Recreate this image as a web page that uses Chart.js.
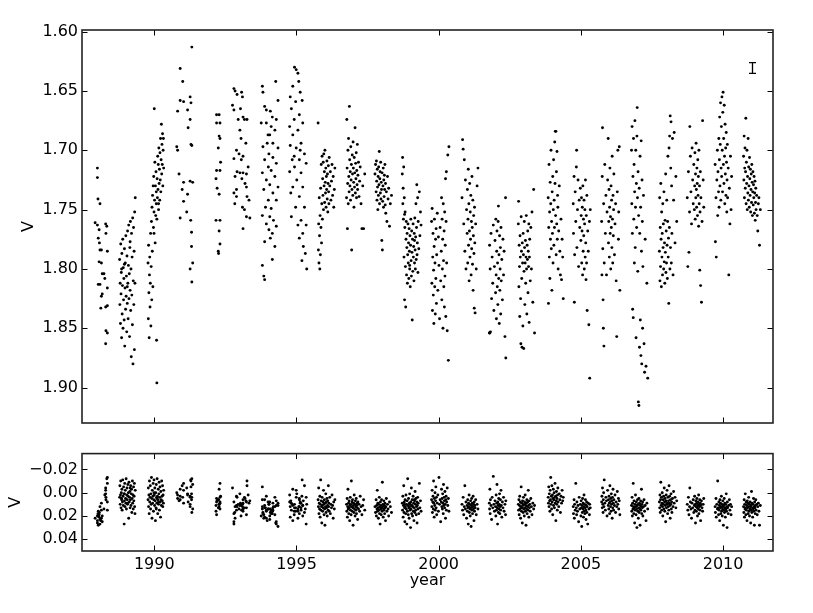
<!DOCTYPE html>
<html>
<head>
<meta charset="utf-8">
<script src="https://cdn.jsdelivr.net/npm/chart.js@4.4.1/dist/chart.umd.min.js"></script>
<style>
  body { margin: 0; background: #fff; }
  #wrap { position: relative; width: 813px; height: 613px; }
  canvas { position: absolute; left: 0; }
  #topChart { top: 0; }
  #checkChart { top: 440px; }
</style>
</head>
<body>
<div id="wrap">
  <canvas id="topChart" width="813" height="440"></canvas>
  <canvas id="checkChart" width="813" height="173"></canvas>
</div>
<script>
// axis limits (data units)
const xMin = 1987.458, xMax = 2011.755;
const vMin = 1.5986, vMax = 1.9298;
const cMin = -0.0336, cMax = 0.0501;
const xTickStep = 5, vTickStep = 0.05, cTickStep = 0.02;

// typical error bar shown in the upper right corner
const errYear = 2011.0, errV = 1.6306, errHalf = 0.0045;

// one observing season each: time (year), V of the star, check-star difference
const t1988 = [1988.00,1988.00,1988.02,1988.09,1987.92,1988.00,1988.06,1988.29,1988.33,1988.03,
  1988.07,1988.09,1988.14,1988.30,1988.35,1988.06,1988.14,1988.17,1988.23,1988.26,
  1988.03,1988.09,1988.35,1988.17,1988.14,1988.29,1988.35,1988.12,1988.30,1988.35,1988.29];
const v1988 = [1.715,1.723,1.741,1.745,1.761,1.763,1.767,1.762,1.764,1.774,
  1.778,1.784,1.784,1.770,1.785,1.794,1.795,1.804,1.804,1.808,
  1.813,1.813,1.816,1.821,1.823,1.832,1.831,1.833,1.852,1.854,1.863];
const c1988 = [0.020,0.024,0.018,0.012,0.022,0.026,0.021,-0.004,-0.012,0.028,
  0.017,0.023,0.009,0.004,-0.008,0.019,0.015,0.025,0.014,0.002,
  0.016,0.027,0.008,0.020,0.022,-0.002,-0.013,0.024,0.006,0.015,0.001];

const t1989 = [1988.78,1988.79,1988.80,1988.81,1988.82,1988.83,1988.84,1988.85,1988.86,1988.87,
  1988.88,1988.89,1988.90,1988.91,1988.92,1988.93,1988.94,1988.95,1988.96,1988.97,
  1988.98,1988.99,1989.00,1989.01,1989.02,1989.03,1989.04,1989.05,1989.06,1989.07,
  1989.08,1989.09,1989.10,1989.11,1989.12,1989.13,1989.14,1989.15,1989.16,1989.17,
  1989.18,1989.19,1989.20,1989.21,1989.22,1989.23,1989.24,1989.25,1989.26,1989.27,
  1989.28,1989.29,1989.30,1989.31,1989.32,1989.33,1988.85,1988.95,1989.05,1989.15];
const v1989 = [1.792,1.830,1.812,1.846,1.779,1.821,1.803,1.858,1.787,1.838,
  1.814,1.775,1.850,1.799,1.826,1.808,1.843,1.783,1.865,1.816,
  1.795,1.834,1.772,1.823,1.806,1.853,1.789,1.829,1.768,1.812,
  1.842,1.797,1.763,1.825,1.804,1.857,1.782,1.818,1.760,1.835,
  1.800,1.874,1.770,1.822,1.790,1.847,1.757,1.880,1.810,1.765,
  1.830,1.785,1.868,1.752,1.812,1.740,1.800,1.796,1.815,1.777];
const c1989 = [0.004,-0.006,0.010,0.002,-0.010,0.013,0.000,0.006,-0.003,0.015,
  0.008,-0.011,0.003,0.011,-0.005,0.001,0.027,0.007,-0.008,0.012,
  -0.002,0.005,0.009,-0.012,0.014,0.002,-0.004,0.006,0.010,-0.007,
  0.003,0.000,0.022,-0.009,0.008,0.004,-0.001,0.013,0.006,-0.006,
  0.011,0.001,-0.003,0.017,0.005,-0.010,0.009,0.002,0.014,-0.005,
  0.007,0.003,-0.008,0.012,0.018,-0.002,0.005,0.001,0.009,-0.004];

const t1990 = [1989.78,1989.79,1989.80,1989.81,1989.82,1989.83,1989.84,1989.85,1989.86,1989.87,
  1989.88,1989.89,1989.90,1989.91,1989.92,1989.93,1989.94,1989.95,1989.96,1989.97,
  1989.98,1989.99,1990.00,1990.01,1990.02,1990.03,1990.04,1990.05,1990.06,1990.07,
  1990.08,1990.09,1990.10,1990.11,1990.12,1990.13,1990.14,1990.15,1990.16,1990.17,
  1990.18,1990.19,1990.20,1990.21,1990.22,1990.23,1990.24,1990.25,1990.26,1990.27,
  1990.28,1990.29,1990.30,1990.31,1990.32,1990.33,1990.09,1990.07,1989.99,1990.15];
const v1990 = [1.795,1.842,1.780,1.820,1.858,1.805,1.790,1.832,1.812,1.770,
  1.848,1.798,1.760,1.826,1.748,1.785,1.738,1.815,1.730,1.765,
  1.722,1.752,1.665,1.742,1.710,1.778,1.730,1.755,1.718,1.745,
  1.860,1.896,1.724,1.740,1.705,1.733,1.712,1.750,1.698,1.728,
  1.716,1.742,1.702,1.725,1.690,1.735,1.708,1.678,1.720,1.695,
  1.712,1.686,1.730,1.700,1.690,1.715,1.758,1.735,1.770,1.745];
const c1990 = [0.006,-0.004,0.012,0.002,0.018,-0.010,0.008,0.004,-0.006,0.014,
  0.001,0.010,-0.013,0.005,0.022,-0.002,0.009,0.003,-0.008,0.016,
  0.006,-0.011,0.002,0.011,-0.004,0.007,0.024,0.000,0.013,-0.007,
  0.004,0.009,-0.012,0.003,0.018,0.006,-0.003,0.010,0.001,-0.009,
  0.015,0.004,-0.005,0.008,0.021,-0.001,0.006,0.011,-0.010,0.003,
  0.007,-0.006,0.012,0.002,0.009,-0.002,0.005,0.014,0.000,0.008];

const t1991 = [1990.91,1991.00,1991.32,1990.82,1990.91,1991.03,1991.17,1991.26,1991.29,1991.26,
  1991.19,1991.29,1991.32,1990.79,1990.82,1990.87,1991.03,1991.26,1991.35,1990.98,
  1991.17,1991.03,1991.14,1990.91,1991.28,1991.31,1991.31,1991.26,1991.35,1991.32];
const v1991 = [1.631,1.642,1.613,1.667,1.658,1.659,1.666,1.655,1.660,1.674,
  1.681,1.695,1.696,1.697,1.700,1.720,1.727,1.726,1.727,1.733,
  1.737,1.743,1.752,1.757,1.759,1.769,1.781,1.800,1.795,1.811];
const c1991 = [-0.003,0.004,-0.012,0.002,0.006,-0.008,0.001,0.010,-0.005,0.003,
  0.008,-0.010,0.017,0.000,0.005,0.007,-0.002,0.004,0.014,-0.006,
  0.002,0.009,-0.004,0.003,-0.011,0.006,0.001,0.012,-0.007,0.004];

const t1992 = [1992.19,1992.28,1992.19,1992.31,1992.28,1992.31,1992.25,1992.33,1992.19,1992.31,
  1992.17,1992.21,1992.28,1992.17,1992.31,1992.28,1992.31,1992.25,1992.26];
const v1992 = [1.670,1.670,1.677,1.677,1.688,1.690,1.698,1.710,1.717,1.717,
  1.724,1.732,1.737,1.759,1.759,1.768,1.779,1.785,1.787];
const c1992 = [0.008,0.012,0.005,-0.008,0.010,0.014,0.006,0.003,0.019,0.009,
  0.011,0.007,-0.003,0.016,0.004,0.010,0.008,0.013,0.006];

const t1993 = [1992.80,1992.84,1992.91,1993.07,1993.10,1992.75,1992.80,1993.03,1993.12,1993.17,
  1993.26,1993.01,1993.05,1993.22,1992.89,1992.98,1992.80,1993.12,1992.91,1993.01,
  1993.12,1993.24,1992.84,1993.08,1993.19,1993.24,1992.80,1992.89,1993.26,1993.33,
  1992.83,1993.10,1993.17,1993.24,1993.36,1993.12,1992.95,1993.30,1992.89,1993.06];
const v1993 = [1.648,1.650,1.653,1.651,1.655,1.662,1.666,1.665,1.672,1.674,
  1.674,1.683,1.690,1.694,1.700,1.703,1.707,1.705,1.718,1.719,
  1.719,1.720,1.722,1.724,1.728,1.731,1.736,1.739,1.739,1.742,
  1.745,1.748,1.750,1.756,1.757,1.766,1.674,1.714,1.733,1.708];
const c1993 = [0.008,0.012,0.004,0.015,0.010,-0.004,0.018,0.009,0.006,0.013,
  -0.010,0.011,0.020,0.007,0.003,0.014,0.025,0.009,0.012,0.001,
  0.016,0.008,0.022,0.010,0.005,0.013,0.027,0.011,-0.006,0.009,
  0.017,0.012,0.004,0.019,0.007,0.014,0.010,0.002,0.015,0.011];

const t1994 = [1993.80,1993.82,1993.88,1993.94,1994.08,1994.35,1994.27,1994.15,1994.29,1993.76,
  1993.94,1994.11,1994.24,1994.06,1993.97,1994.17,1993.82,1994.35,1994.03,1994.17,
  1993.88,1994.29,1994.01,1994.11,1993.80,1994.24,1993.94,1994.06,1994.35,1993.85,
  1994.17,1994.01,1994.29,1993.91,1994.11,1993.80,1994.06,1994.19,1993.94,1994.29,
  1994.03,1994.15,1993.88,1994.24,1994.15,1993.80,1993.85,1993.88,1994.08,1994.00];
const v1994 = [1.646,1.651,1.663,1.666,1.667,1.658,1.642,1.672,1.674,1.677,
  1.677,1.680,1.683,1.687,1.694,1.694,1.697,1.698,1.703,1.706,
  1.708,1.711,1.714,1.717,1.719,1.722,1.725,1.729,1.731,1.733,
  1.736,1.742,1.742,1.748,1.749,1.755,1.756,1.759,1.762,1.764,
  1.767,1.770,1.777,1.781,1.792,1.797,1.806,1.809,1.774,1.687];
const c1994 = [0.012,0.018,0.006,0.022,0.014,0.009,0.026,0.016,0.011,0.020,
  0.003,0.015,0.019,0.008,0.024,0.013,0.017,0.029,0.010,0.015,
  0.021,0.007,0.014,0.018,-0.005,0.012,0.016,0.023,0.011,0.019,
  0.009,0.014,0.027,0.013,0.017,0.006,0.020,0.012,0.015,0.025,
  0.010,0.016,0.013,0.004,0.018,0.014,0.022,0.011,0.017,0.008];

const t1995 = [1994.93,1994.99,1995.05,1994.87,1995.08,1994.78,1995.13,1994.97,1995.20,1994.82,
  1995.10,1994.92,1995.22,1994.76,1995.05,1994.87,1995.16,1994.78,1994.99,1995.28,
  1994.85,1995.10,1994.93,1995.34,1994.76,1995.16,1995.01,1994.87,1995.22,1994.80,
  1995.10,1994.97,1995.28,1994.82,1995.16,1995.05,1995.34,1995.22,1995.10,1995.24,
  1995.31,1995.36,1995.19,1994.92,1995.13];
const v1995 = [1.630,1.632,1.635,1.646,1.642,1.655,1.651,1.659,1.658,1.665,
  1.670,1.674,1.677,1.680,1.683,1.687,1.694,1.696,1.698,1.703,
  1.708,1.708,1.714,1.711,1.718,1.719,1.725,1.731,1.731,1.736,
  1.739,1.748,1.748,1.756,1.759,1.763,1.763,1.770,1.774,1.781,
  1.787,1.800,1.793,1.705,1.700];
const c1995 = [0.010,0.004,0.016,-0.003,0.012,0.021,0.008,0.013,-0.011,0.015,
  0.006,0.019,0.011,0.002,0.014,0.024,0.009,0.012,-0.002,0.017,
  0.010,0.005,0.013,0.027,0.008,0.015,0.001,0.011,0.020,0.007,
  0.012,0.016,-0.006,0.009,0.013,0.022,0.004,0.011,0.018,0.007,
  0.014,0.010,0.003,0.016,0.009];

const t1996 = [1995.76,1995.77,1995.78,1995.79,1995.80,1995.81,1995.82,1995.83,1995.84,1995.85,
  1995.86,1995.87,1995.88,1995.89,1995.90,1995.91,1995.92,1995.93,1995.94,1995.95,
  1995.96,1995.97,1995.98,1995.99,1996.00,1996.01,1996.02,1996.03,1996.04,1996.05,
  1996.06,1996.07,1996.08,1996.09,1996.10,1996.11,1996.12,1996.13,1996.14,1996.15,
  1996.17,1996.19,1996.21,1996.23,1996.25,1996.27,1996.29,1996.31,1996.33,1996.35];
const v1996 = [1.677,1.784,1.762,1.795,1.740,1.772,1.800,1.755,1.788,1.732,
  1.765,1.712,1.778,1.745,1.705,1.758,1.724,1.738,1.710,1.750,
  1.703,1.730,1.718,1.744,1.700,1.727,1.736,1.715,1.748,1.722,
  1.733,1.709,1.741,1.720,1.752,1.728,1.713,1.735,1.745,1.706,
  1.730,1.718,1.742,1.726,1.712,1.738,1.722,1.748,1.733,1.715];
const c1996 = [0.006,0.012,-0.004,0.018,0.009,0.014,0.003,0.021,0.010,-0.011,
  0.015,0.007,0.012,0.026,0.004,0.011,0.016,0.008,0.013,-0.002,
  0.010,0.019,0.006,0.014,0.028,0.009,0.012,0.001,0.017,0.008,
  0.013,0.005,0.020,0.011,0.007,0.015,-0.006,0.012,0.009,0.016,
  0.004,0.018,0.010,0.013,0.002,0.011,0.022,0.008,0.014,0.006];

const t1997 = [1996.76,1996.77,1996.78,1996.79,1996.80,1996.81,1996.82,1996.83,1996.84,1996.85,
  1996.86,1996.87,1996.88,1996.89,1996.90,1996.91,1996.92,1996.93,1996.94,1996.95,
  1996.96,1996.97,1996.98,1996.99,1997.00,1997.01,1997.02,1997.03,1997.04,1997.05,
  1997.06,1997.07,1997.08,1997.09,1997.10,1997.11,1997.12,1997.13,1997.14,1997.15,
  1997.16,1997.18,1997.20,1997.22,1997.24,1997.27,1997.30,1997.33,1997.36,1997.40];
const v1997 = [1.740,1.674,1.715,1.766,1.728,1.700,1.745,1.690,1.722,1.735,
  1.663,1.708,1.730,1.718,1.742,1.697,1.725,1.712,1.784,1.733,
  1.704,1.720,1.738,1.693,1.715,1.727,1.748,1.706,1.731,1.719,
  1.681,1.736,1.711,1.724,1.702,1.740,1.717,1.729,1.695,1.733,
  1.721,1.710,1.739,1.726,1.714,1.745,1.766,1.730,1.766,1.720];
const c1997 = [0.010,0.016,0.005,0.021,0.012,-0.003,0.014,0.009,0.018,0.007,
  0.013,0.024,0.011,0.004,0.015,0.010,0.019,-0.010,0.012,0.008,
  0.016,0.006,0.013,0.028,0.011,0.009,0.017,0.002,0.014,0.010,
  0.020,0.007,0.012,0.015,0.005,0.018,0.011,0.009,0.013,0.023,
  0.008,0.014,0.010,0.016,0.003,0.012,0.019,0.011,0.006,0.015];

const t1998 = [1997.76,1997.78,1997.80,1997.81,1997.82,1997.83,1997.84,1997.85,1997.86,1997.87,
  1997.88,1997.89,1997.90,1997.91,1997.92,1997.93,1997.94,1997.95,1997.96,1997.97,
  1997.98,1997.99,1998.00,1998.01,1998.02,1998.03,1998.04,1998.05,1998.06,1998.07,
  1998.08,1998.09,1998.10,1998.11,1998.12,1998.13,1998.14,1998.16,1998.18,1998.20,
  1998.22,1998.24,1998.27,1998.30,1998.34];
const v1998 = [1.720,1.712,1.735,1.709,1.726,1.742,1.716,1.731,1.750,1.722,
  1.738,1.714,1.729,1.701,1.745,1.724,1.718,1.736,1.710,1.741,
  1.727,1.733,1.776,1.719,1.784,1.743,1.730,1.715,1.748,1.725,
  1.739,1.721,1.733,1.712,1.746,1.728,1.753,1.735,1.760,1.722,
  1.741,1.732,1.764,1.745,1.738];
const c1998 = [0.012,0.017,0.006,0.020,0.011,0.014,-0.002,0.016,0.009,0.013,
  0.022,0.010,0.015,0.004,0.018,0.012,0.027,0.008,0.014,0.011,
  0.019,0.006,0.013,0.016,-0.009,0.012,0.010,0.021,0.014,0.007,
  0.015,0.011,0.018,0.009,0.013,0.024,0.012,0.005,0.016,0.010,
  0.014,0.020,0.008,0.012,0.017];

const t1999 = [1998.72,1998.73,1998.74,1998.75,1998.76,1998.77,1998.78,1998.79,1998.80,1998.81,
  1998.82,1998.83,1998.84,1998.85,1998.86,1998.87,1998.88,1998.89,1998.90,1998.91,
  1998.92,1998.93,1998.94,1998.95,1998.96,1998.97,1998.98,1998.99,1999.00,1999.01,
  1999.02,1999.03,1999.04,1999.05,1999.06,1999.07,1999.08,1999.09,1999.10,1999.11,
  1999.12,1999.13,1999.14,1999.15,1999.16,1999.17,1999.18,1999.19,1999.20,1999.21,
  1999.22,1999.23,1999.24,1999.25,1999.26,1999.27,1999.28,1999.30,1999.32,1999.34,
  1999.36,1999.38,1998.80,1998.98,1999.15];
const v1999 = [1.720,1.706,1.745,1.732,1.758,1.714,1.790,1.740,1.826,1.765,
  1.752,1.798,1.832,1.775,1.760,1.805,1.782,1.770,1.812,1.788,
  1.762,1.795,1.778,1.808,1.766,1.785,1.800,1.772,1.815,1.780,
  1.758,1.793,1.806,1.768,1.786,1.843,1.775,1.802,1.762,1.790,
  1.781,1.810,1.770,1.795,1.757,1.784,1.800,1.773,1.745,1.792,
  1.765,1.729,1.788,1.778,1.740,1.803,1.760,1.783,1.735,1.772,
  1.752,1.763,1.754,1.797,1.776];
const c1999 = [0.009,0.015,0.003,0.021,0.011,-0.006,0.017,0.008,0.013,0.025,
  0.006,0.012,0.018,0.002,0.014,0.010,0.027,0.007,0.016,-0.012,
  0.011,0.019,0.005,0.013,0.022,0.009,0.001,0.015,0.010,0.030,
  0.008,0.014,-0.004,0.018,0.011,0.006,0.020,0.012,0.003,0.016,
  0.009,0.024,0.013,0.007,0.017,-0.001,0.010,0.015,0.005,0.019,
  0.012,0.008,0.026,0.011,0.004,0.014,0.009,0.018,-0.008,0.013,
  0.007,0.016,0.010,0.012,0.006];

const t2000 = [1999.75,1999.76,1999.77,1999.78,1999.79,1999.80,1999.81,1999.82,1999.83,1999.84,
  1999.85,1999.86,1999.87,1999.88,1999.89,1999.90,1999.91,1999.92,1999.93,1999.95,
  1999.97,1999.99,2000.01,2000.03,2000.05,2000.07,2000.09,2000.10,2000.11,2000.12,
  2000.13,2000.14,2000.15,2000.16,2000.17,2000.18,2000.19,2000.20,2000.21,2000.22,
  2000.23,2000.24,2000.25,2000.26,2000.27,2000.28,2000.30,2000.32,2000.34,2000.36];
const v2000 = [1.760,1.812,1.749,1.835,1.790,1.770,1.822,1.801,1.846,1.781,
  1.758,1.815,1.795,1.838,1.775,1.808,1.766,1.829,1.788,1.753,
  1.818,1.773,1.797,1.842,1.765,1.810,1.785,1.740,1.826,1.758,
  1.800,1.775,1.850,1.745,1.793,1.815,1.768,1.832,1.752,1.806,
  1.780,1.724,1.840,1.760,1.718,1.795,1.852,1.704,1.877,1.697];
const c2000 = [0.006,0.012,-0.002,0.017,0.008,0.003,0.014,-0.010,0.009,0.021,
  0.005,0.011,0.000,0.015,0.007,-0.005,0.013,0.004,0.019,0.009,
  0.002,0.016,-0.013,0.010,0.006,0.025,0.008,-0.003,0.012,0.005,
  0.014,0.001,0.009,0.018,-0.007,0.011,0.004,0.007,0.013,-0.001,
  0.010,0.022,0.006,0.003,0.015,0.008,-0.004,0.011,0.005,0.016];

const t2001 = [2000.82,2000.84,2000.86,2000.88,2000.90,2000.92,2000.94,2000.96,2000.98,2001.00,
  2001.01,2001.02,2001.03,2001.04,2001.05,2001.06,2001.07,2001.08,2001.09,2001.10,
  2001.11,2001.12,2001.13,2001.14,2001.15,2001.16,2001.17,2001.18,2001.19,2001.20,
  2001.21,2001.22,2001.23,2001.24,2001.25,2001.26,2001.27,2001.28,2001.30,2001.32,
  2001.35,2001.38];
const v2001 = [1.740,1.691,1.699,1.762,1.708,1.785,1.725,1.800,1.750,1.770,
  1.733,1.795,1.758,1.716,1.780,1.745,1.810,1.768,1.728,1.790,
  1.752,1.775,1.738,1.805,1.760,1.783,1.722,1.765,1.796,1.742,
  1.818,1.772,1.755,1.787,1.833,1.748,1.778,1.837,1.762,1.800,
  1.730,1.715];
const c2001 = [0.010,0.015,0.004,0.019,0.012,-0.006,0.014,0.008,0.022,0.011,
  0.016,0.006,0.013,0.027,0.009,0.012,0.002,0.017,0.010,0.014,
  0.020,0.007,0.013,0.029,0.011,0.005,0.015,0.009,0.018,0.012,
  0.003,0.014,0.010,0.024,0.008,0.016,0.011,0.013,0.006,0.019,
  0.010,0.014];

const t2002 = [2001.78,2001.79,2001.80,2001.81,2001.82,2001.84,2001.86,2001.88,2001.90,2001.92,
  2001.94,2001.96,2001.98,2002.00,2002.01,2002.02,2002.03,2002.04,2002.05,2002.06,
  2002.07,2002.08,2002.09,2002.10,2002.11,2002.12,2002.13,2002.14,2002.15,2002.16,
  2002.17,2002.18,2002.19,2002.20,2002.22,2002.24,2002.26,2002.28,2002.30,2002.33,
  2002.35,2002.36];
const v2002 = [1.854,1.780,1.854,1.800,1.853,1.770,1.825,1.790,1.812,1.763,
  1.835,1.798,1.776,1.820,1.758,1.805,1.842,1.785,1.768,1.815,
  1.795,1.830,1.760,1.747,1.808,1.788,1.846,1.772,1.818,1.800,
  1.782,1.838,1.765,1.810,1.792,1.826,1.775,1.805,1.785,1.857,
  1.740,1.875];
const c2002 = [0.009,0.014,-0.003,0.018,0.006,0.011,0.023,0.004,0.013,-0.014,
  0.010,0.016,0.007,0.012,0.020,0.002,0.015,0.009,-0.007,0.013,
  0.027,0.008,0.011,0.017,0.005,0.014,0.010,0.001,0.018,0.012,
  0.006,0.015,-0.002,0.011,0.021,0.008,0.013,0.004,0.016,0.010,
  0.019,0.007];

const t2003 = [2002.80,2002.81,2002.82,2002.83,2002.84,2002.85,2002.86,2002.87,2002.88,2002.89,
  2002.90,2002.91,2002.92,2002.93,2002.94,2002.95,2002.96,2002.97,2002.98,2002.99,
  2003.00,2003.01,2003.02,2003.03,2003.04,2003.05,2003.06,2003.07,2003.08,2003.09,
  2003.10,2003.11,2003.12,2003.13,2003.14,2003.15,2003.16,2003.17,2003.18,2003.19,
  2003.20,2003.22,2003.24,2003.26,2003.28,2003.31,2003.34,2003.37];
const v2003 = [1.762,1.743,1.815,1.780,1.798,1.840,1.772,1.790,1.825,1.863,
  1.756,1.785,1.808,1.866,1.778,1.795,1.848,1.770,1.788,1.867,
  1.802,1.760,1.782,1.830,1.795,1.776,1.812,1.790,1.755,1.800,
  1.838,1.780,1.792,1.768,1.820,1.785,1.798,1.762,1.845,1.790,
  1.775,1.810,1.765,1.800,1.752,1.828,1.733,1.854];
const c2003 = [0.010,0.015,0.006,0.019,0.011,0.003,0.014,0.008,0.022,0.012,
  -0.005,0.016,0.009,0.013,0.026,0.007,0.011,0.017,0.004,0.014,
  0.010,0.020,0.008,0.013,0.002,0.016,0.011,0.028,0.009,0.014,
  0.006,0.018,0.012,0.008,0.015,-0.002,0.011,0.021,0.007,0.013,
  0.010,0.016,0.005,0.012,0.019,0.009,0.014,0.011];

const t2004 = [2003.85,2003.86,2003.87,2003.88,2003.89,2003.90,2003.91,2003.92,2003.93,2003.94,
  2003.95,2003.96,2003.97,2003.98,2003.99,2004.00,2004.01,2004.02,2004.03,2004.04,
  2004.05,2004.06,2004.07,2004.08,2004.09,2004.10,2004.11,2004.12,2004.13,2004.14,
  2004.15,2004.16,2004.17,2004.18,2004.19,2004.20,2004.22,2004.24,2004.26,2004.28,
  2004.30,2004.32,2004.34,2004.36,2004.38];
const v2004 = [1.740,1.829,1.765,1.712,1.790,1.752,1.808,1.727,1.775,1.745,
  1.700,1.783,1.760,1.818,1.735,1.770,1.722,1.795,1.750,1.708,
  1.780,1.742,1.765,1.693,1.728,1.684,1.755,1.684,1.788,1.718,
  1.762,1.701,1.775,1.738,1.748,1.800,1.768,1.730,1.785,1.805,
  1.758,1.809,1.775,1.790,1.825];
const c2004 = [0.004,0.009,-0.005,0.012,0.001,0.007,0.016,-0.002,0.006,-0.013,
  0.010,0.003,0.014,-0.006,0.008,0.002,0.019,0.005,-0.003,0.011,
  0.006,0.000,0.013,0.004,-0.008,0.009,0.003,0.024,0.007,-0.001,
  0.010,0.005,0.015,0.002,-0.004,0.008,0.012,0.001,0.006,0.017,
  0.003,0.009,-0.002,0.007,0.004];

const t2005 = [2004.73,2004.74,2004.76,2004.77,2004.78,2004.80,2004.82,2004.84,2004.85,2004.86,
  2004.88,2004.90,2004.92,2004.94,2004.96,2004.98,2005.00,2005.01,2005.02,2005.03,
  2005.04,2005.05,2005.06,2005.07,2005.08,2005.09,2005.10,2005.11,2005.12,2005.13,
  2005.14,2005.15,2005.16,2005.17,2005.18,2005.19,2005.20,2005.21,2005.22,2005.24,
  2005.26,2005.28,2005.30,2005.31,2005.33];
const v2005 = [1.745,1.770,1.722,1.828,1.788,1.735,1.760,1.714,1.700,1.782,
  1.750,1.725,1.798,1.742,1.765,1.732,1.776,1.755,1.740,1.795,
  1.768,1.748,1.805,1.730,1.785,1.758,1.772,1.742,1.800,1.762,
  1.750,1.790,1.725,1.778,1.809,1.755,1.795,1.738,1.835,1.768,
  1.785,1.847,1.760,1.892,1.750];
const c2005 = [0.012,0.018,0.006,0.022,0.010,0.015,-0.008,0.013,0.019,0.008,
  0.016,0.011,0.025,0.004,0.014,0.010,0.020,0.007,0.013,0.029,
  0.011,0.017,0.005,0.014,0.009,0.021,0.012,0.002,0.016,0.010,
  0.018,0.013,0.006,0.015,0.023,0.011,0.008,0.017,0.012,0.027,
  0.009,0.014,0.019,0.010,0.013];

const t2006 = [2005.73,2005.74,2005.75,2005.76,2005.77,2005.78,2005.79,2005.80,2005.81,2005.82,
  2005.84,2005.86,2005.88,2005.90,2005.92,2005.94,2005.96,2005.97,2005.98,2005.99,
  2006.00,2006.01,2006.02,2006.03,2006.04,2006.05,2006.06,2006.07,2006.08,2006.09,
  2006.10,2006.11,2006.12,2006.13,2006.14,2006.15,2006.16,2006.18,2006.20,2006.22,
  2006.24,2006.26,2006.28,2006.30,2006.32,2006.33,2006.35,2006.37];
const v2006 = [1.760,1.805,1.722,1.681,1.783,1.826,1.850,1.745,1.865,1.795,
  1.712,1.770,1.738,1.805,1.752,1.725,1.690,1.778,1.760,1.733,
  1.790,1.748,1.715,1.770,1.756,1.800,1.730,1.765,1.742,1.782,
  1.705,1.758,1.795,1.738,1.772,1.750,1.720,1.788,1.762,1.745,
  1.810,1.857,1.735,1.700,1.775,1.752,1.697,1.818];
const c2006 = [0.008,0.003,0.013,-0.004,0.010,0.017,0.006,0.000,0.012,-0.011,
  0.009,0.015,0.004,0.007,0.020,-0.002,0.011,0.006,0.014,0.003,
  0.009,0.018,-0.006,0.008,0.012,0.005,0.016,0.001,0.010,0.007,
  0.022,0.004,0.013,-0.003,0.009,0.015,0.006,0.011,0.002,0.017,
  0.008,0.012,-0.001,0.010,0.005,0.014,0.007,0.019];

const t2007 = [2006.78,2006.79,2006.80,2006.81,2006.82,2006.83,2006.84,2006.85,2006.86,2006.87,
  2006.88,2006.89,2006.90,2006.91,2006.92,2006.93,2006.94,2006.95,2006.96,2006.97,
  2006.98,2006.99,2007.00,2007.01,2007.02,2007.03,2007.04,2007.05,2007.06,2007.07,
  2007.08,2007.09,2007.10,2007.11,2007.12,2007.13,2007.14,2007.15,2007.16,2007.17,
  2007.18,2007.20,2007.22,2007.24,2007.26,2007.29,2007.32,2007.35];
const v2007 = [1.700,1.745,1.680,1.770,1.834,1.722,1.841,1.690,1.758,1.712,
  1.795,1.735,1.675,1.782,1.748,1.700,1.858,1.728,1.765,1.688,
  1.664,1.740,1.802,1.718,1.912,1.755,1.915,1.732,1.866,1.770,
  1.705,1.843,1.748,1.873,1.692,1.785,1.880,1.725,1.760,1.850,
  1.798,1.738,1.863,1.887,1.775,1.882,1.812,1.892];
const c2007 = [0.011,0.016,0.004,0.020,0.009,0.014,-0.008,0.012,0.018,0.007,
  0.013,0.026,0.010,0.015,0.002,0.012,0.019,0.008,0.014,0.030,
  0.011,0.006,0.016,0.010,0.022,0.013,0.005,0.017,0.009,0.014,
  0.028,0.011,0.007,0.015,0.012,-0.003,0.018,0.010,0.013,0.008,
  0.020,0.012,0.006,0.016,0.011,0.024,0.009,0.014];

const t2008 = [2007.76,2007.77,2007.78,2007.79,2007.80,2007.81,2007.82,2007.83,2007.84,2007.85,
  2007.86,2007.87,2007.88,2007.89,2007.90,2007.91,2007.92,2007.93,2007.94,2007.95,
  2007.96,2007.97,2007.98,2007.99,2008.00,2008.01,2008.02,2008.03,2008.04,2008.05,
  2008.06,2008.07,2008.08,2008.09,2008.10,2008.11,2008.12,2008.13,2008.14,2008.15,
  2008.16,2008.17,2008.18,2008.19,2008.20,2008.22,2008.24,2008.26,2008.28,2008.31,
  2008.34,2008.37];
const v2008 = [1.785,1.740,1.810,1.765,1.798,1.728,1.775,1.815,1.752,1.790,
  1.770,1.805,1.745,1.782,1.762,1.800,1.735,1.794,1.778,1.812,
  1.759,1.786,1.720,1.803,1.768,1.795,1.742,1.780,1.808,1.760,
  1.705,1.790,1.774,1.829,1.698,1.765,1.688,1.800,1.671,1.782,
  1.715,1.676,1.795,1.730,1.770,1.690,1.805,1.742,1.685,1.778,
  1.722,1.760];
const c2008 = [0.008,0.013,0.002,0.017,0.006,-0.009,0.011,0.004,0.015,0.009,
  0.000,0.012,0.020,0.006,0.010,0.003,0.014,-0.004,0.008,0.016,
  0.005,0.011,0.025,0.007,0.002,0.013,0.009,-0.002,0.010,0.018,
  0.004,0.012,0.007,0.015,-0.006,0.009,0.003,0.011,0.022,0.006,
  0.010,0.001,0.014,0.008,0.017,0.005,0.012,-0.001,0.009,0.004,
  0.013,0.007];

const t2009 = [2008.74,2008.76,2008.78,2008.80,2008.82,2008.83,2008.85,2008.87,2008.89,2008.91,
  2008.93,2008.95,2008.97,2008.99,2009.00,2009.01,2009.02,2009.03,2009.04,2009.05,
  2009.06,2009.07,2009.08,2009.09,2009.10,2009.11,2009.12,2009.13,2009.14,2009.15,
  2009.16,2009.17,2009.18,2009.19,2009.20,2009.21,2009.22,2009.24,2009.26,2009.28,
  2009.30,2009.32];
const v2009 = [1.740,1.798,1.718,1.786,1.752,1.680,1.705,1.735,1.762,1.698,
  1.725,1.745,1.712,1.750,1.730,1.702,1.758,1.720,1.740,1.694,
  1.733,1.748,1.715,1.728,1.755,1.708,1.738,1.722,1.764,1.700,
  1.745,1.730,1.801,1.752,1.718,1.814,1.740,1.828,1.760,1.675,
  1.725,1.748];
const c2009 = [0.010,0.015,0.004,0.019,0.012,-0.004,0.008,0.014,0.022,0.009,
  0.013,0.006,0.017,0.011,0.003,0.015,0.010,0.026,0.007,0.012,
  0.016,0.009,0.005,0.013,0.020,0.011,0.008,0.014,0.002,0.018,
  0.010,0.012,0.006,0.015,0.009,0.024,0.011,0.007,0.013,0.016,
  0.010,0.005];

const t2010 = [2009.72,2009.73,2009.75,2009.76,2009.78,2009.80,2009.81,2009.82,2009.84,2009.85,
  2009.86,2009.87,2009.88,2009.89,2009.90,2009.91,2009.92,2009.93,2009.94,2009.95,
  2009.96,2009.97,2009.98,2009.99,2010.00,2010.01,2010.02,2010.03,2010.04,2010.05,
  2010.06,2010.07,2010.08,2010.09,2010.10,2010.11,2010.12,2010.13,2010.14,2010.15,
  2010.16,2010.18,2010.20,2010.22,2010.24,2010.26,2010.28,2010.30];
const v2010 = [1.712,1.777,1.740,1.790,1.725,1.700,1.755,1.718,1.735,1.690,
  1.748,1.708,1.672,1.730,1.695,1.660,1.742,1.715,1.680,1.722,
  1.655,1.700,1.735,1.668,1.651,1.712,1.690,1.728,1.662,1.705,
  1.745,1.678,1.720,1.698,1.738,1.685,1.710,1.752,1.725,1.695,
  1.740,1.715,1.805,1.732,1.762,1.705,1.750,1.722];
const c2010 = [0.012,0.017,0.005,0.021,0.010,0.014,-0.010,0.013,0.019,0.008,
  0.015,0.011,0.024,0.006,0.013,0.009,0.018,0.012,0.003,0.016,
  0.010,0.020,0.014,0.007,0.012,0.028,0.011,0.015,0.005,0.017,
  0.009,0.013,0.021,0.010,0.014,0.001,0.016,0.012,0.030,0.008,
  0.013,0.018,0.011,0.006,0.015,0.010,0.019,0.012];

const t2011 = [2010.72,2010.73,2010.74,2010.75,2010.76,2010.77,2010.78,2010.79,2010.80,2010.81,
  2010.82,2010.83,2010.84,2010.85,2010.86,2010.87,2010.88,2010.89,2010.90,2010.91,
  2010.92,2010.93,2010.94,2010.95,2010.96,2010.97,2010.98,2010.99,2011.00,2011.01,
  2011.02,2011.03,2011.04,2011.05,2011.06,2011.07,2011.08,2011.09,2011.10,2011.11,
  2011.12,2011.13,2011.14,2011.15,2011.16,2011.18,2011.20,2011.22,2011.24,2011.26,
  2011.28,2011.31];
const v2011 = [1.705,1.725,1.688,1.740,1.715,1.698,1.732,1.718,1.673,1.745,
  1.710,1.728,1.700,1.750,1.722,1.736,1.690,1.742,1.714,1.730,
  1.748,1.706,1.724,1.738,1.716,1.752,1.733,1.720,1.744,1.712,
  1.727,1.755,1.735,1.718,1.746,1.729,1.740,1.722,1.753,1.736,
  1.726,1.759,1.744,1.732,1.750,1.738,1.755,1.768,1.745,1.740,
  1.780,1.750];
const c2011 = [0.012,0.017,0.006,0.021,0.010,0.014,0.001,0.013,0.019,0.008,
  0.015,0.011,0.024,0.007,0.013,0.009,0.018,0.012,0.004,0.016,
  0.010,0.020,0.014,0.008,0.012,0.026,0.011,0.015,-0.001,0.017,
  0.009,0.013,0.021,0.010,0.014,0.005,0.016,0.012,0.028,0.008,
  0.013,0.018,0.011,0.006,0.015,0.010,0.019,0.012,0.009,0.016,
  0.028,0.011];

const seasons = [
  [t1988, v1988, c1988], [t1989, v1989, c1989], [t1990, v1990, c1990], [t1991, v1991, c1991],
  [t1992, v1992, c1992], [t1993, v1993, c1993], [t1994, v1994, c1994], [t1995, v1995, c1995],
  [t1996, v1996, c1996], [t1997, v1997, c1997], [t1998, v1998, c1998], [t1999, v1999, c1999],
  [t2000, v2000, c2000], [t2001, v2001, c2001], [t2002, v2002, c2002], [t2003, v2003, c2003],
  [t2004, v2004, c2004], [t2005, v2005, c2005], [t2006, v2006, c2006], [t2007, v2007, c2007],
  [t2008, v2008, c2008], [t2009, v2009, c2009], [t2010, v2010, c2010], [t2011, v2011, c2011]
];

const starPoints = [];
const checkPoints = [];
seasons.forEach(([t, v, c]) => {
  const n = Math.min(t.length, v.length, c.length);
  for (let i = 0; i < n; i++) {
    starPoints.push({ x: t[i], y: v[i] });
    checkPoints.push({ x: t[i], y: c[i] });
  }
});

Chart.defaults.font.family = "'DejaVu Sans', sans-serif";
Chart.defaults.font.size = 16;
Chart.defaults.color = "#000";

// matplotlib-like frame with inward ticks on all four sides
const frameTicks = {
  id: "frameTicks",
  afterDraw(chart, args, opts) {
    const { ctx, chartArea: a } = chart;
    const x = chart.scales.x, y = chart.scales.y;
    ctx.save();
    ctx.strokeStyle = "#000";
    ctx.lineWidth = 1;
    ctx.beginPath();
    x.ticks.forEach(tk => {
      const px = Math.round(x.getPixelForValue(tk.value)) + 0.5;
      ctx.moveTo(px, a.bottom); ctx.lineTo(px, a.bottom - 5.5);
      ctx.moveTo(px, a.top); ctx.lineTo(px, a.top + 5.5);
    });
    y.ticks.forEach(tk => {
      const py = Math.round(y.getPixelForValue(tk.value)) + 0.5;
      ctx.moveTo(a.left, py); ctx.lineTo(a.left + 5.5, py);
      ctx.moveTo(a.right, py); ctx.lineTo(a.right - 5.5, py);
    });
    ctx.stroke();

    if (opts.errorBar) {
      const ex = Math.round(x.getPixelForValue(errYear)) + 0.5;
      const y1 = y.getPixelForValue(errV - errHalf);
      const y2 = y.getPixelForValue(errV + errHalf);
      ctx.lineWidth = 1.3;
      ctx.beginPath();
      ctx.moveTo(ex, y1); ctx.lineTo(ex, y2);
      ctx.moveTo(ex - 3.5, y1); ctx.lineTo(ex + 3.5, y1);
      ctx.moveTo(ex - 3.5, y2); ctx.lineTo(ex + 3.5, y2);
      ctx.stroke();
    }

    ctx.lineWidth = 1.6;
    ctx.strokeStyle = "#222";
    ctx.strokeRect(a.left, a.top, a.right - a.left, a.bottom - a.top);
    ctx.restore();
  }
};

const pointStyle = {
  pointRadius: 1.45,
  pointHoverRadius: 1.45,
  pointBackgroundColor: "#000",
  pointBorderWidth: 0,
  showLine: false
};

new Chart(document.getElementById("topChart"), {
  type: "scatter",
  data: { datasets: [Object.assign({ data: starPoints }, pointStyle)] },
  options: {
    responsive: false,
    animation: false,
    layout: { padding: { left: 15, right: 40, top: 30, bottom: 0 } },
    plugins: { legend: { display: false }, tooltip: { enabled: false }, frameTicks: { errorBar: true } },
    scales: {
      x: {
        type: "linear", min: xMin, max: xMax,
        grid: { display: false, drawTicks: false },
        border: { display: false },
        ticks: { display: false, stepSize: xTickStep, includeBounds: false },
        afterFit: s => { s.height = 17; }
      },
      y: {
        type: "linear", reverse: true, min: vMin, max: vMax,
        grid: { display: false, drawTicks: false },
        border: { display: false },
        ticks: { stepSize: vTickStep, includeBounds: false, padding: 4, callback: v => v.toFixed(2) },
        title: { display: true, text: "V", padding: { top: 4, bottom: 0 } },
        afterFit: s => { s.width = 67; }
      }
    }
  },
  plugins: [frameTicks]
});

new Chart(document.getElementById("checkChart"), {
  type: "scatter",
  data: { datasets: [Object.assign({ data: checkPoints }, pointStyle)] },
  options: {
    responsive: false,
    animation: false,
    layout: { padding: { left: 2, right: 40, top: 13, bottom: 0 } },
    plugins: { legend: { display: false }, tooltip: { enabled: false }, frameTicks: { errorBar: false } },
    scales: {
      x: {
        type: "linear", min: xMin, max: xMax,
        grid: { display: false, drawTicks: false },
        border: { display: false },
        ticks: { stepSize: xTickStep, includeBounds: false, padding: 4, autoSkip: false, maxRotation: 0,
                 callback: v => String(v) },
        title: { display: true, text: "year", padding: { top: 0, bottom: 23 } },
        afterFit: s => { s.height = 62; }
      },
      y: {
        type: "linear", reverse: true, min: cMin, max: cMax,
        grid: { display: false, drawTicks: false },
        border: { display: false },
        ticks: { stepSize: cTickStep, includeBounds: false, padding: 4,
                 callback: v => (v < -1e-9 ? "\u2212" : "") + Math.abs(v).toFixed(2) },
        title: { display: true, text: "V", padding: { top: 4, bottom: 0 } },
        afterFit: s => { s.width = 80; }
      }
    }
  },
  plugins: [frameTicks]
});
</script>
</body>
</html>
